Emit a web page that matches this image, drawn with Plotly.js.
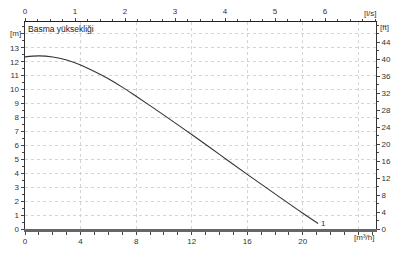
<!DOCTYPE html>
<html>
<head>
<meta charset="utf-8">
<script src="https://cdn.plot.ly/plotly-3.0.1.min.js"></script>
<style>html,body{margin:0;padding:0;background:#fff;}#chart{width:400px;height:254px;}</style>
</head>
<body>
<div id="chart"></div>
<script>
// Pump curve 1: flow [m³/h] vs head [m]
const flow = [0, 1, 2, 3, 4, 5, 6, 7, 8, 9, 10, 12, 14, 16, 18, 20, 21.1];
const head = [12.35, 12.42, 12.34, 12.12, 11.76, 11.3, 10.78, 10.18, 9.52, 8.85, 8.17, 6.78, 5.35, 3.92, 2.52, 1.13, 0.4];
const curveLabel = '1';
const titleText = 'Basma yüksekliği';
const xTicks = [0, 4, 8, 12, 16, 20, 24];
const xTickText = ['0', '4', '8', '12', '16', '20', ''];
const yTicks = [0,1,2,3,4,5,6,7,8,9,10,11,12,13,14];
const yTickText = ['0','1','2','3','4','5','6','7','8','9','10','11','12','13',''];
const lsTicks = [0,1,2,3,4,5,6];
const ftTicks = [0,4,8,12,16,20,24,28,32,36,40,44];

const xMax = 25.27, yMax = 14.85;
const font = {family: 'Liberation Sans, Arial, sans-serif', size: 8, color: '#333'};

const traces = [
  {x: flow, y: head, type: 'scatter', mode: 'lines', line: {color: '#333', width: 1.1, shape: 'spline', smoothing: 1}, xaxis: 'x', yaxis: 'y', hoverinfo: 'none'},
  {x: [0], y: [0], type: 'scatter', mode: 'markers', marker: {opacity: 0}, xaxis: 'x2', yaxis: 'y2', hoverinfo: 'none'}
];

const layout = {
  width: 400, height: 254,
  margin: {l: 25, r: 24, t: 22, b: 25, pad: 0},
  paper_bgcolor: '#fff', plot_bgcolor: '#fff',
  showlegend: false,
  font: font,
  xaxis: {
    range: [0, xMax], tickvals: xTicks, ticktext: xTickText,
    showgrid: true, gridcolor: '#d4d4d4', griddash: 'dot', gridwidth: 1,
    zeroline: false, showline: true, linecolor: '#666', linewidth: 2.5,
    ticks: 'outside', ticklen: 3, tickcolor: '#444', tickfont: font,
    minor: {dtick: 1, ticklen: 3, tickcolor: '#444', showgrid: false},
    fixedrange: true
  },
  xaxis2: {
    overlaying: 'x', side: 'top', anchor: 'y',
    range: [0, xMax / 3.6], tickvals: lsTicks,
    showgrid: false, zeroline: false, showline: true, linecolor: '#222', linewidth: 1.5,
    ticks: 'outside', ticklen: 3, tickcolor: '#444', tickfont: font,
    minor: {dtick: 0.25, ticklen: 2, tickcolor: '#444', showgrid: false},
    fixedrange: true
  },
  yaxis: {
    range: [0, yMax], tickvals: yTicks, ticktext: yTickText,
    showgrid: true, gridcolor: '#d4d4d4', griddash: 'dot', gridwidth: 1,
    zeroline: false, showline: true, linecolor: '#333', linewidth: 1.5,
    ticks: 'outside', ticklen: 3, tickcolor: '#444', tickfont: font,
    minor: {dtick: 0.5, ticklen: 2, tickcolor: '#444', showgrid: false},
    fixedrange: true
  },
  yaxis2: {
    overlaying: 'y', side: 'right', anchor: 'x',
    range: [0, yMax * 3.2808], tickvals: ftTicks,
    showgrid: false, zeroline: false, showline: true, linecolor: '#333', linewidth: 1,
    ticks: 'outside', ticklen: 3, tickcolor: '#444', tickfont: font,
    minor: {dtick: 2, ticklen: 2, tickcolor: '#444', showgrid: false},
    fixedrange: true
  },
  annotations: [
    {text: titleText, xref: 'paper', yref: 'paper', x: 0, y: 1, xanchor: 'left', yanchor: 'top', xshift: 1, yshift: 0, showarrow: false, font: {family: font.family, size: 8.5, color: '#222'}},
    {text: '[m]', xref: 'paper', yref: 'paper', x: 0, y: 1, xanchor: 'right', yanchor: 'top', xshift: -2, yshift: -5, showarrow: false, font: font},
    {text: '[ft]', xref: 'paper', yref: 'paper', x: 1, y: 1, xanchor: 'left', yanchor: 'top', xshift: 2, yshift: 1, showarrow: false, font: font},
    {text: '[l/s]', xref: 'paper', yref: 'paper', x: 1, y: 1, xanchor: 'right', yanchor: 'bottom', xshift: 2, yshift: 2, showarrow: false, font: font},
    {text: '[m³/h]', xref: 'x', yref: 'paper', x: 24, y: 0, xanchor: 'center', yanchor: 'top', xshift: 6, yshift: -2, showarrow: false, font: font},
    {text: curveLabel, xref: 'x', yref: 'y', x: flow[flow.length - 1], y: head[head.length - 1], xanchor: 'left', yanchor: 'middle', xshift: 1, showarrow: false, font: font}
  ]
};

Plotly.newPlot('chart', traces, layout, {staticPlot: true, displayModeBar: false});
</script>
</body>
</html>
